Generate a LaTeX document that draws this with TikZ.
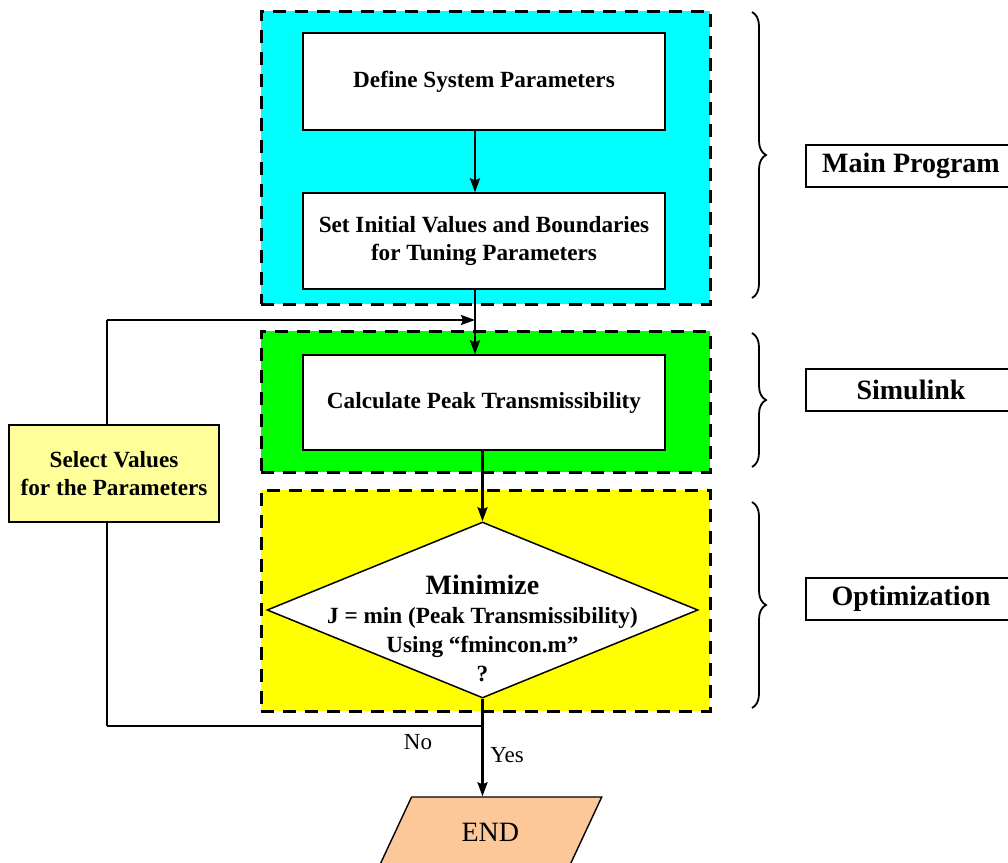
\documentclass[tikz,border=0pt]{standalone}
\usepackage{fontspec}
\setmainfont{Liberation Serif}
\usetikzlibrary{shapes.geometric,arrows.meta,decorations.pathreplacing}
\definecolor{mainfill}{RGB}{0,255,255}
\definecolor{simfill}{RGB}{0,255,0}
\definecolor{optfill}{RGB}{255,255,0}
\definecolor{selfill}{RGB}{255,255,153}
\definecolor{endfill}{RGB}{252,200,153}
\tikzset{
  region/.style={draw, line width=1.5pt, dash pattern=on 6.5pt off 4.5pt,
    minimum width=224.5pt, inner sep=0pt},
  stepbox/.style={draw, fill=white, line width=0.7pt, minimum width=181pt,
    minimum height=48pt, inner sep=0pt, align=center,
    font=\fontsize{11.6}{14}\selectfont\bfseries},
  sidelabel/.style={draw, line width=0.8pt, minimum width=105pt,
    minimum height=21pt, inner sep=0pt,
    font=\fontsize{14}{16}\selectfont\bfseries},
  flow/.style={line width=1.2pt, -{Stealth[length=7pt,width=5pt,inset=1pt]}},
  loopline/.style={line width=1pt},
  sidebrace/.style={decorate, decoration={brace, amplitude=7pt}, line width=0.9pt},
  plain/.style={font=\fontsize{11.5}{13}\selectfont}
}
\begin{document}
\begin{tikzpicture}[x=0.5pt,y=-0.5pt]
\clip (0,0) rectangle (1008,863);
\fill[white] (0,0) rectangle (1008,863);

% dashed stage regions
\node[region, fill=mainfill, minimum height=146.5pt] (mainreg) at (485.5,157.5) {};
\node[region, fill=simfill, minimum height=70.5pt] (simreg) at (485.5,401.5) {};
\node[region, fill=optfill, minimum height=110.5pt] (optreg) at (485.5,600.5) {};

% process steps
\node[stepbox, minimum height=48.5pt] (define) at (484,81.5) {Define System Parameters};
\node[stepbox] (setinit) at (484,241) {Set Initial Values and Boundaries\\for Tuning Parameters};
\node[stepbox, minimum height=47.5pt] (calc) at (484,402.5) {Calculate Peak Transmissibility};

% decision
\node[diamond, draw, fill=white, line width=0.75pt, inner sep=0pt,
      minimum width=215.5pt, minimum height=88pt] (decide) at (482.5,610) {};
\node[align=center, font=\fontsize{11.6}{14.5}\selectfont\bfseries] (decidetext) at (482.5,628)
  {{\fontsize{14}{16}\selectfont Minimize}\\J = min (Peak Transmissibility)\\Using “fmincon.m”\\?};

% parameter update
\node[draw, fill=selfill, line width=1pt, minimum width=105pt, minimum height=48.5pt,
      inner sep=0pt, align=center, font=\fontsize{11.6}{14}\selectfont\bfseries]
      (select) at (114,473.5) {Select Values\\for the Parameters};

% terminal
\node[trapezium, trapezium left angle=57, trapezium right angle=123,
      trapezium stretches=true, draw, fill=endfill, line width=0.7pt,
      minimum width=111.75pt, minimum height=35pt, inner sep=0pt,
      font=\fontsize{14}{16}\selectfont] (finish) at (490.3,832) {END};

% connectors
\coordinate (join) at (475,320);
\coordinate (branch) at (482.5,726);
\coordinate (loopcorner) at (107,726);
\coordinate (looptop) at (107,320);
\draw[flow] (define.south -| join) -- (setinit.north -| join);
\draw[flow] (setinit.south -| join) -- (calc.north -| join);
\draw[flow] (calc.south -| decide.north) -- (decide.north);
\draw[flow] (decide.south) -- (decide.south |- finish.north);
\draw[line width=0.8pt] (branch) -- (loopcorner);
\draw[loopline] (loopcorner) -- (loopcorner |- select.south);
\draw[loopline] (looptop |- select.north) -- (looptop);
\draw[flow, line width=1pt] (looptop) -- (join);

\node[plain] (nolabel) at (418,742) {No};
\node[plain] (yeslabel) at (507,755) {Yes};

% stage braces and names
\draw[sidebrace] (752,12) -- (752,298);
\draw[sidebrace] (752,333) -- (752,467);
\draw[sidebrace] (752,502) -- (752,708);
\node[sidelabel] (mainlab) at (911,166) {Main Program};
\node[sidelabel] (simlab) at (911,390) {Simulink};
\node[sidelabel] (optlab) at (911,599) {Optimization};
\end{tikzpicture}
\end{document}
